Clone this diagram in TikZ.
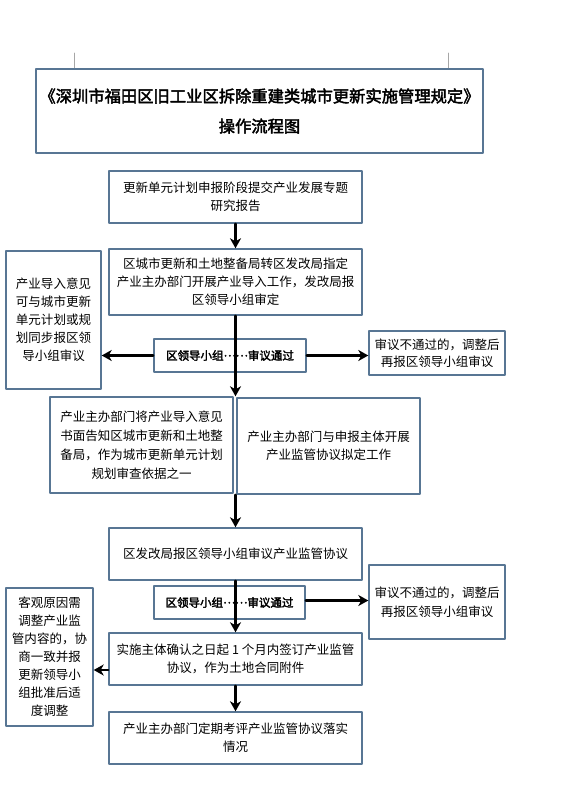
\documentclass[tikz,border=0pt]{standalone}
\usepackage{fontspec}
\setmainfont[AutoFakeBold=2.5]{Noto Sans CJK SC}
\usetikzlibrary{arrows.meta}
\definecolor{boxblue}{RGB}{88,118,148}

\begin{document}
\begin{tikzpicture}[line cap=round,line join=round,>={Stealth[length=10pt,width=11pt,inset=3pt]},x=1pt,y=-1pt,
  box/.style={draw=boxblue,line width=1.4pt,fill=white,align=center,inner sep=0pt,
    font=\fontsize{12.5}{18}\selectfont},
  passbox/.style={box,font=\fontsize{11.5}{14}\selectfont\bfseries},
  arr/.style={->,line width=2.2pt,black}]
\path[use as bounding box,fill=white] (0,0) rectangle (581,802);
%\draw[very thin,gray!30,step=50] (0,0) grid (581,802);
% crop marks
\draw[gray!70,line width=0.6pt] (74,53) -- (74,68);
\draw[gray!70,line width=0.6pt] (448,53) -- (448,68);
% title
\node[box,minimum width=447,minimum height=84,font=\fontsize{16.3}{30}\selectfont\bfseries] (title) at (259.5,111)
  {《深圳市福田区旧工业区拆除重建类城市更新实施管理规定》\\操作流程图};
% main column
\node[box,minimum width=253,minimum height=52] (report) at (235.5,197)
  {更新单元计划申报阶段提交产业发展专题\\研究报告};
\node[box,minimum width=253,minimum height=66] (assign) at (235.5,282)
  {区城市更新和土地整备局转区发改局指定\\产业主办部门开展产业导入工作，发改局报\\区领导小组审定};
\node[box,minimum width=95,minimum height=138] (sync) at (53.5,320)
  {产业导入意见\\可与城市更新\\单元计划或规\\划同步报区领\\导小组审议};
\node[box,minimum width=136,minimum height=44,font=\fontsize{12.5}{17}\selectfont] (redo) at (437,353)
  {审议不通过的，调整后\\再报区领导小组审议};
\node[passbox,minimum width=152,minimum height=33] (pass) at (230,355.5)
  {区领导小组\raisebox{0.3em}{……}审议通过};
\node[box,minimum width=183,minimum height=96,font=\fontsize{12.5}{19}\selectfont] (notify) at (141.5,445)
  {产业主办部门将产业导入意见\\书面告知区城市更新和土地整\\备局，作为城市更新单元计划\\规划审查依据之一};
\node[box,minimum width=183,minimum height=96] (draft) at (328.5,446)
  {产业主办部门与申报主体开展\\产业监管协议拟定工作};
\node[box,minimum width=253,minimum height=52] (review) at (235.5,554)
  {区发改局报区领导小组审议产业监管协议};
\node[box,minimum width=136,minimum height=74,font=\fontsize{12.5}{19}\selectfont] (redob) at (437,602)
  {审议不通过的，调整后\\再报区领导小组审议};
\node[passbox,minimum width=151,minimum height=33] (passb) at (229.5,602.5)
  {区领导小组\raisebox{0.3em}{……}审议通过};
\node[box,minimum width=253,minimum height=52] (sign) at (235.5,659)
  {实施主体确认之日起 1 个月内签订产业监管\\协议，作为土地合同附件};
\node[box,minimum width=87,minimum height=138] (adjust) at (49.5,657)
  {客观原因需\\调整产业监\\管内容的，协\\商一致并报\\更新领导小\\组批准后适\\度调整};
\node[box,minimum width=253,minimum height=52] (check) at (235.5,738)
  {产业主办部门定期考评产业监管协议落实\\情况};
% arrows
\draw[arr] (report.south) -- (assign.north);
\draw[arr] (assign.south) -- (assign.south |- notify.north);
\draw[arr] (pass.west) -- (pass.west -| sync.east);
\draw[arr] (pass.east) -- (pass.east -| redo.west);
\draw[arr] (assign.south |- draft.south) -- (review.north);
\draw[arr] (review.south) -- (sign.north);
\draw[arr] ([yshift=2pt]passb.east) -- ([yshift=2pt]passb.east -| redob.west);
\draw[arr] ([yshift=-11pt]sign.west) -- ([yshift=-11pt]sign.west -| adjust.east);
\draw[arr] (sign.south) -- (check.north);
\end{tikzpicture}
\end{document}
